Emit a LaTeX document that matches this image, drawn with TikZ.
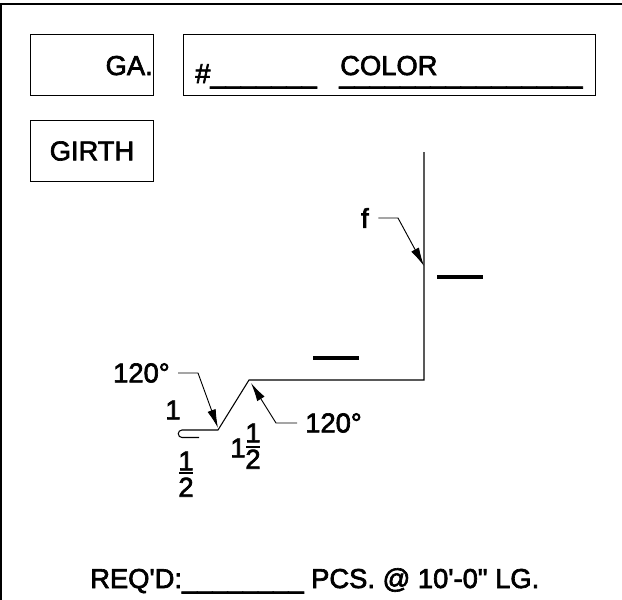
\documentclass[tikz,border=0pt]{standalone}
\usepackage{fontspec}
\newfontfamily\drawfont[FakeBold=2.4]{Liberation Sans}
\usepackage{tikz}
\usetikzlibrary{positioning,arrows.meta}
\tikzstyle{box0} = [rectangle, draw, line width=0.75pt]
\tikzstyle{lab} = [inner sep=0pt, font=\fontsize{20.5}{20.5}\drawfont, text=black]
\tikzstyle{part} = [draw, line width=0.8pt, line join=miter]
\tikzstyle{leader} = [draw, line width=0.7pt, -{Latex[length=14pt,width=6.5pt]}]
\tikzstyle{blank} = [draw, line width=2.4pt]

\begin{document}
\begin{tikzpicture}[x=0.75pt,y=-0.75pt]
   \useasboundingbox (0,0) rectangle (622,600);
   \draw[line width=1.6pt] (1,600) -- (1,4) -- (622,4);

   % Header Boxes %%%%%%%%%%%%%%%%%%%%%%%%%%%%%%%%%%%%%%%%%%%%%%%%%%
   \node[box0, minimum width=92.25pt, minimum height=45.75pt, anchor=north west](GAbox) at (30,34){};
   \node[box0, minimum width=309pt, minimum height=45.75pt, anchor=north west](Colorbox) at (183,34){};
   \node[box0, minimum width=92.25pt, minimum height=45.75pt, anchor=north west](Girthbox) at (30,120){};

   \node[lab, anchor=base east](GA) at (153,75){GA.};
   \node[lab, anchor=base west](Gauge) at (195,83){\#\_\_\_\_\_\_\_};
   \node[lab, anchor=base west](Color) at (340,75){COLOR};
   \node[lab, anchor=base west](Colorline) at (339,83){\_\_\_\_\_\_\_\_\_\_\_\_\_\_\_\_};
   \node[lab](Girth) at (92,151){GIRTH};

   % Flashing profile %%%%%%%%%%%%%%%%%%%%%%%%%%%%%%%%%%%%%%%%%%%%%%
   \coordinate (Top) at (424,152);
   \coordinate (Corner) at (424,380);
   \coordinate (Apex) at (249,380);
   \coordinate (Foot) at (218,430);
   \coordinate (Hem) at (182,430);
   \coordinate (Hemend) at (199,437.5);
   \path [part] (Top) -- (Corner) -- (Apex) -- (Foot) -- (Hem)
      arc[start angle=270, end angle=90, radius=3.75] -- (Hemend);

   % Leaders %%%%%%%%%%%%%%%%%%%%%%%%%%%%%%%%%%%%%%%%%%%%%%%%%%%%%%%
   \node[lab, anchor=east](Angleleft) at (170,373){120°};
   \node[lab, anchor=west](Angleright) at (305,423){120°};
   \node[lab, anchor=east](Hemlabel) at (369,218){f};
   \coordinate (Kneeleft) at (198,373);
   \coordinate (Kneeright) at (276,423);
   \coordinate (Kneef) at (398,218);
   \coordinate (Tipleft) at (218,428);
   \coordinate (Tipright) at (251,383);
   \coordinate (Tipf) at (424,266);
   \path [leader] ([xshift=6pt]Angleleft.east) -- (Kneeleft) -- (Tipleft);
   \path [leader] ([xshift=-6pt]Angleright.west) -- (Kneeright) -- (Tipright);
   \path [leader] ([xshift=7pt]Hemlabel.east) -- (Kneef) -- (Tipf);

   % Dimensions %%%%%%%%%%%%%%%%%%%%%%%%%%%%%%%%%%%%%%%%%%%%%%%%%%%%
   \node[lab](One) at (173,410){1};
   \node[lab](Hnum) at (186,461){1};
   \node[lab, below=5pt of Hnum](Hden){2};
   \draw[line width=1.1pt] (179,473) -- (193,473);
   \node[lab](Lwhole) at (238,448){1};
   \node[lab](Lnum) at (253,433){1};
   \node[lab, below=5pt of Lnum](Lden){2};
   \draw[line width=1.1pt] (246,447) -- (260,447);

   \coordinate (Blankaa) at (313,358);
   \coordinate (Blankab) at (359,358);
   \coordinate (Blankba) at (437,277);
   \coordinate (Blankbb) at (483,277);
   \path [blank] (Blankaa) -- (Blankab);
   \path [blank] (Blankba) -- (Blankbb);

   % Footer %%%%%%%%%%%%%%%%%%%%%%%%%%%%%%%%%%%%%%%%%%%%%%%%%%%%%%%%
   \node[lab, anchor=base west](Required) at (90,588){REQ\textquotesingle D:\_\_\_\_\_\_\_\_ PCS. @ 10\textquotesingle-0\textquotedbl{} LG.};
\end{tikzpicture}
\end{document}
